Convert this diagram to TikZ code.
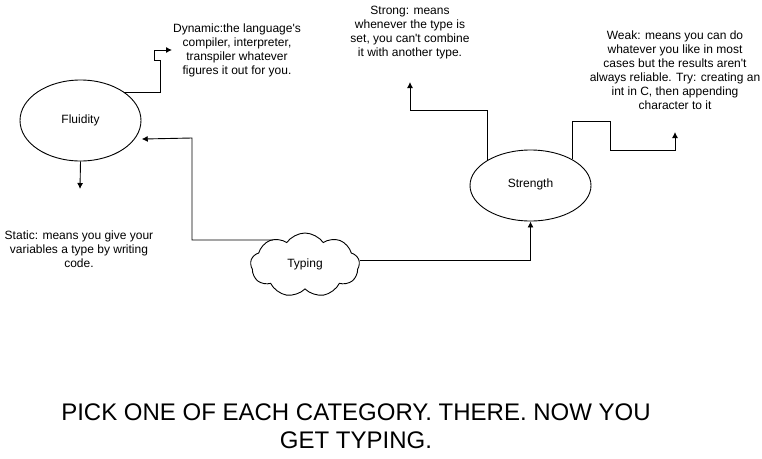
\documentclass[tikz,border=0pt]{standalone}
\usepackage{fontspec}
\setmainfont{Liberation Sans}[Ligatures=TeXOff]
\usetikzlibrary{shapes.geometric,shapes.symbols,arrows.meta}
\begin{document}
\begin{tikzpicture}[x=1pt,y=-1pt,
  every node/.style={font=\fontsize{12}{14}\selectfont},
  ell/.style={draw,ellipse,inner sep=0pt,line width=0.9pt},
  txt/.style={align=center,inner sep=0pt},
  conn/.style={draw,line width=0.9pt,-{Latex[length=6pt,width=6pt]}}]
\useasboundingbox (0,0) rectangle (762,458);
\node[ell,minimum width=121,minimum height=81] (flu) at (80.5,120.5) {\raisebox{1pt}{Fluidity}};
\node[ell,minimum width=121,minimum height=71] (str) at (530.5,185.5) {\raisebox{5pt}{Strength}};
\node[draw,cloud,cloud puffs=9,cloud puff arc=110,aspect=1.8,inner sep=0pt,
      minimum width=109,minimum height=64,line width=0.9pt] (typ) at (305,265) {\raisebox{4pt}{Typing}};
\node[txt] (dyn) at (237,50) {Dynamic:the language's\\compiler, interpreter,\\transpiler whatever\\figures it out for you.};
\node[txt] (sta) at (79,249.5) {Static: means you give your\\variables a type by writing\\code.};
\node[txt] (stg) at (410,33) {Strong: means\\whenever the type is\\set, you can't combine\\it with another type.};
\node[txt] (wk) at (675,70) {Weak: means you can do\\whatever you like in most\\cases but the results aren't\\always reliable. Try: creating an\\int in C, then appending\\character to it};
\node[txt,font=\fontsize{24}{28}\selectfont] (bot) at (356,426) {PICK ONE OF EACH CATEGORY. THERE. NOW YOU\\GET TYPING.};
\coordinate (dyntip) at (172,50);
\coordinate (statip) at (80,189);
\coordinate (stgtip) at (410,82);
\coordinate (wktip) at (675,132);
\draw[conn] (flu.33) -| (160,60) -| (154,50) -- (dyntip);
\draw[conn] (flu.south) -- (statip);
\draw[conn,shorten >=7pt] (273,240) -| (192,138) -- (flu.-19);
\draw[conn] ([yshift=5pt]typ.east) -| (str.south);
\draw[conn] (str.149) |- (stgtip |- 0,110) -- (stgtip);
\draw[conn] (str.32) |- (610,121) |- (675,150) -- (wktip);
\end{tikzpicture}
\end{document}
